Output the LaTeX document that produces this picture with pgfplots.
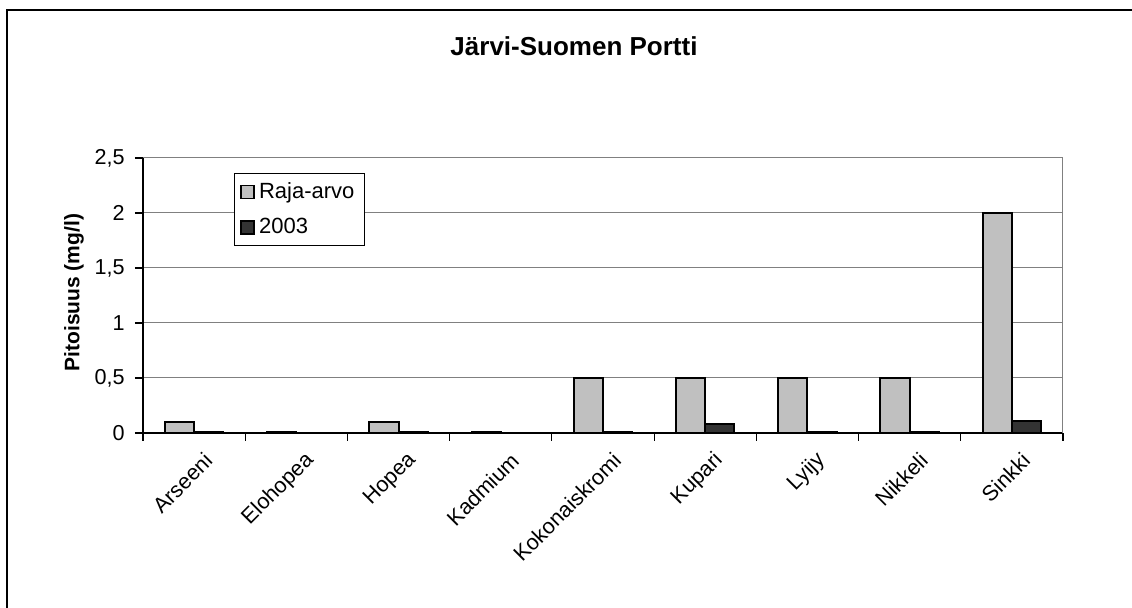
\documentclass[border=0pt]{standalone}
\usepackage{fontspec}
\setmainfont{Liberation Sans}
\usepackage{pgfplots}
\pgfplotsset{compat=1.18}
\definecolor{raja}{HTML}{C0C0C0}
\definecolor{v2003}{HTML}{333333}
\definecolor{gridgray}{HTML}{808080}

\begin{document}
\begin{tikzpicture}
\useasboundingbox (-71.5pt,-87.5pt) rectangle (494.5pt,216.5pt);
\draw[line width=1pt] (-68pt,-95pt) rectangle (500pt,211.5pt);
\begin{axis}[
  scale only axis,
  width=460pt, height=137.5pt,
  xmin=-0.5, xmax=8.5,
  ymin=0, ymax=2.5,
  ytick={0,0.5,...,2.5},
  axis x line*=bottom, axis y line*=left,
  axis line style={black, line width=0.6pt},
  ymajorgrids,
  major grid style={gridgray, line width=0.5pt},
  tick align=outside,
  major tick length=4pt,
  tick style={black, line width=0.6pt},
  xtick={-0.5,0.5,...,8.5},
  xticklabels={},
  extra x ticks={0,...,8},
  extra x tick labels={Arseeni,Elohopea,Hopea,Kadmium,Kokonaiskromi,Kupari,Lyijy,Nikkeli,Sinkki},
  extra x tick style={major tick length=0pt,
    tick label style={rotate=45, anchor=east, yshift=-13.5pt}},
  tick label style={font=\fontsize{10.8}{13}\selectfont},
  yticklabel style={xshift=-1.6pt},
  /pgf/number format/.cd, use comma, assume math mode=true, /pgfplots/.cd,
  ylabel={\textbf{Pitoisuus (mg/l)}},
  ylabel style={at={(axis description cs:-0.075,0.51)}, anchor=center,
    font=\fontsize{10.5}{12}\selectfont},
  title={\textbf{Järvi-Suomen Portti}},
  title style={at={(axis description cs:0.4685,1.3636)}, anchor=center,
    font=\fontsize{13}{15}\selectfont},
  ybar=0pt,
  bar width=0.2857,
  legend style={at={(axis description cs:0.0989,0.9455)}, anchor=north west,
    draw=black, line width=0.5pt, font=\fontsize{11}{13}\selectfont,
    inner xsep=3pt, inner ysep=2.5pt, row sep=4.5pt,
    /tikz/every even column/.append style={column sep=1.5pt}},
  legend cell align=left,
  legend image code/.code={\draw[#1, line width=0.8pt] (0pt,-3.25pt) rectangle (6.5pt,3.25pt);},
  after end axis/.code={\draw[gridgray, line width=0.5pt] (rel axis cs:1,0) -- (rel axis cs:1,1);},
]
\addplot[fill=raja, draw=black, line width=1pt] coordinates {
  (0,0.1) (1,0.005) (2,0.1) (3,0.01) (4,0.5) (5,0.5) (6,0.5) (7,0.5) (8,2)
};
\addlegendentry{Raja-arvo}
\addplot[fill=v2003, draw=black, line width=1pt] coordinates {
  (0,0.01) (2,0.01) (4,0.01) (5,0.08) (6,0.01) (7,0.01) (8,0.11)
};
\addlegendentry{2003}
\end{axis}
\end{tikzpicture}
\end{document}
